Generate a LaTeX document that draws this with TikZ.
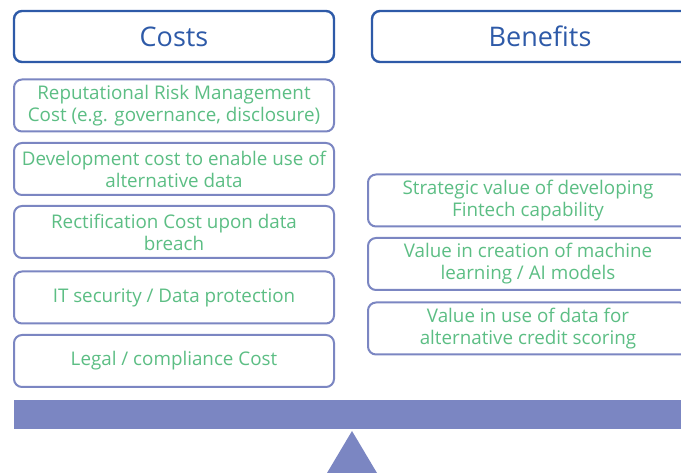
\documentclass[tikz,border=0pt]{standalone}
\usepackage{fontspec}
\setmainfont{Open Sans}
\usepackage{xcolor}
\usetikzlibrary{shapes, positioning}

\definecolor{headblue}{RGB}{46,90,168}
\definecolor{boxline}{RGB}{123,134,194}
\definecolor{itemgreen}{RGB}{92,190,132}

\begin{document}
\begin{tikzpicture}[x=1pt, y=-1pt,
    headbox/.style={draw=headblue, line width=2.4pt, rounded corners=8pt, fill=white,
        minimum width=320pt, minimum height=51pt, text=headblue,
        font=\fontsize{27}{32}\selectfont},
    itembox/.style={draw=boxline, line width=2pt, rounded corners=8pt, fill=white,
        minimum width=320pt, minimum height=52pt, text=itemgreen, align=center,
        inner sep=1pt, font=\fontsize{18.8}{22}\selectfont}]
    \useasboundingbox (0,0) rectangle (681,473);
    \clip (0,0) rectangle (681,473);

    % column heads
    \node[headbox] (costs) at (174,36.5) {Costs};
    \node[headbox, minimum width=336pt] (benefits) at (540,36.5) {Benefits};

    % costs side
    \node[itembox] (reput) at (174,105.5) {Reputational Risk Management\\Cost (e.g. governance, disclosure)};
    \node[itembox] (devel) at (174,169) {Development cost to enable use of\\alternative data};
    \node[itembox] (rectif) at (174,232) {Rectification Cost upon data\\breach};
    \node[itembox] (itsec) at (174,297.5) {IT security / Data protection};
    \node[itembox] (legal) at (174,361) {Legal / compliance Cost};

    % benefits side
    \node[itembox] (strat) at (528,200.5) {Strategic value of developing\\Fintech capability};
    \node[itembox] (mlai) at (528,264) {Value in creation of machine\\learning / AI models};
    \node[itembox] (credit) at (528,328.5) {Value in use of data for\\alternative credit scoring};

    % the scale
    \node[fill=boxline, minimum width=690pt, minimum height=29pt, inner sep=0pt,
        anchor=north west] (beam) at (14,400) {};
    \fill[boxline] (352,431) -- (377,473) -- (327,473) -- cycle;
\end{tikzpicture}
\end{document}
